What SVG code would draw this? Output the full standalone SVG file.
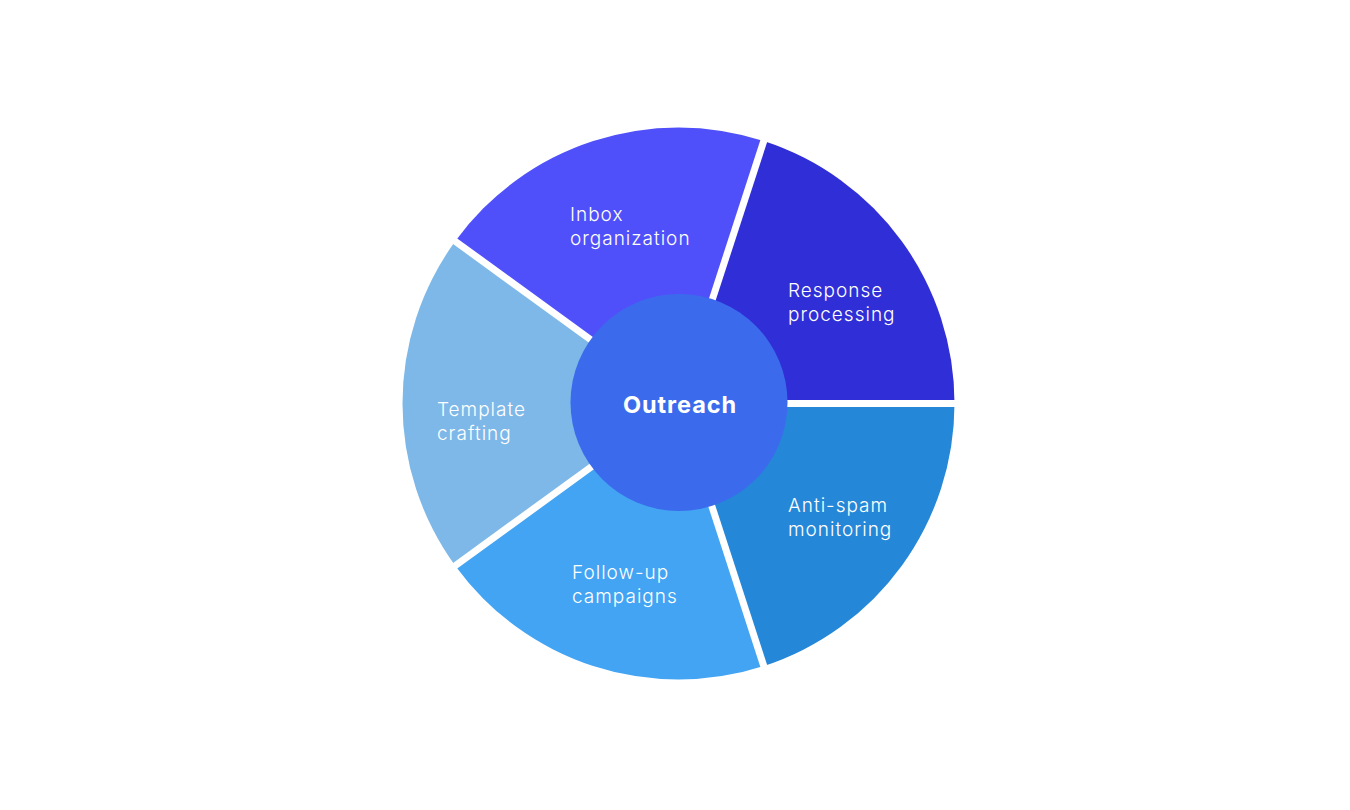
<svg xmlns="http://www.w3.org/2000/svg" width="1350" height="810" viewBox="0 0 1350 810">
  <style>
    .lbl { font-family: Inter, "Noto Sans", "Liberation Sans", sans-serif; font-size: 19px; font-weight: 300; letter-spacing: 1px; fill: #ffffff; }
    .ctr { font-family: Inter, "Noto Sans", "Liberation Sans", sans-serif; font-size: 23.5px; font-weight: 700; letter-spacing: 0.9px; fill: #ffffff; }
    .sep { stroke: #ffffff; stroke-width: 7; fill: none; }
  </style>
  <rect width="1350" height="810" fill="#ffffff"/>
  <g id="seg-response">
    <path d="M678.5,403.5 L763.79,141.01 A276,276 0 0 1 954.5,403.5 Z" fill="#302ED6"/>
    <text class="lbl" x="788" y="297">Response</text>
    <text class="lbl" x="788" y="321">processing</text>
  </g>
  <g id="seg-antispam">
    <path d="M678.5,403.5 L954.5,403.5 A276,276 0 0 1 763.79,665.99 Z" fill="#2487D8"/>
    <text class="lbl" x="788" y="512">Anti-spam</text>
    <text class="lbl" x="788" y="536">monitoring</text>
  </g>
  <g id="seg-followup">
    <path d="M678.5,403.5 L763.79,665.99 A276,276 0 0 1 455.21,565.73 Z" fill="#42A4F2"/>
    <text class="lbl" x="572" y="579">Follow-up</text>
    <text class="lbl" x="572" y="603">campaigns</text>
  </g>
  <g id="seg-template">
    <path d="M678.5,403.5 L455.21,565.73 A276,276 0 0 1 455.21,241.27 Z" fill="#7DB8E8"/>
    <text class="lbl" x="437" y="416">Template</text>
    <text class="lbl" x="437" y="440">crafting</text>
  </g>
  <g id="seg-inbox">
    <path d="M678.5,403.5 L455.21,241.27 A276,276 0 0 1 763.79,141.01 Z" fill="#5050FA"/>
    <text class="lbl" x="570" y="221">Inbox</text>
    <text class="lbl" x="570" y="245">organization</text>
  </g>
  <g id="separators">
    <line class="sep" x1="678.5" y1="403.5" x2="960" y2="403.5"/>
    <line class="sep" x1="678.5" y1="403.5" x2="765.5" y2="671.3"/>
    <line class="sep" x1="678.5" y1="403.5" x2="450.7" y2="569"/>
    <line class="sep" x1="678.5" y1="403.5" x2="450.7" y2="238"/>
    <line class="sep" x1="678.5" y1="403.5" x2="765.5" y2="135.7"/>
  </g>
  <g id="center">
    <circle cx="679" cy="402.5" r="108.5" fill="#3B6BEC"/>
    <text class="ctr" x="680" y="413" text-anchor="middle">Outreach</text>
  </g>
</svg>
